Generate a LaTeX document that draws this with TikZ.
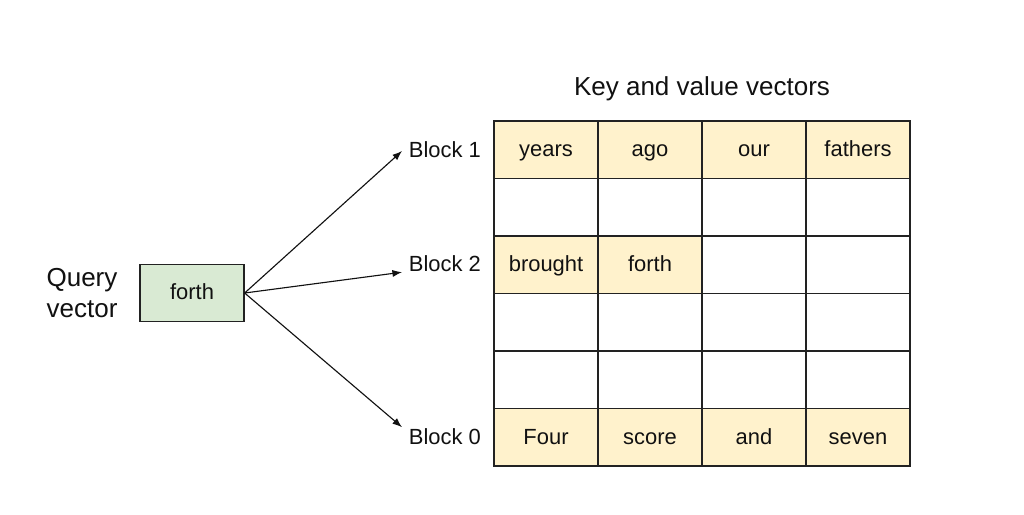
\documentclass[tikz,border=0pt]{standalone}
\usepackage{fontspec}
\setmainfont{Liberation Sans}
\usepackage{tikz}
\usetikzlibrary{arrows.meta,positioning,calc}
\definecolor{Ink}{HTML}{111111}
\definecolor{Grid}{HTML}{222222}
\definecolor{KeyFill}{HTML}{FFF2CC}
\definecolor{QueryFill}{HTML}{D9EAD3}
\tikzset{
  cell/.style={draw=Grid,line width=0.9pt,minimum width=2.6cm,minimum height=1.4375cm,inner sep=0pt,text height=2.2ex,text depth=0.35ex,text=Ink,font=\fontsize{15.6}{18}\selectfont},
  keycell/.style={cell,fill=KeyFill},
  querybox/.style={cell,fill=QueryFill},
  blocklabel/.style={anchor=west,text=Ink,text height=2.2ex,text depth=0.35ex,font=\fontsize{15.6}{18}\selectfont},
  bigtext/.style={text=Ink,align=center,font=\fontsize{18.5}{22}\selectfont},
  arrow/.style={-{Latex[length=2.4mm,width=1.8mm]},line width=0.8pt,draw=Ink}
}
\begin{document}
\begin{tikzpicture}[x=0.025cm,y=-0.025cm]
\useasboundingbox[fill=white] (0,0) rectangle (1024,514);
% grid of key / value slots
\foreach \r in {1,...,6}{
  \foreach \c in {1,...,4}{
    \node[cell] (k\r\c) at ({494+104*(\c-0.5)},{121+57.5*(\r-0.5)}) {};
  }
}
\foreach \r/\c/\word in {1/1/years,1/2/ago,1/3/our,1/4/fathers,3/1/brought,3/2/forth,6/1/Four,6/2/score,6/3/and,6/4/seven}{
  \node[keycell] at (k\r\c) {\word};
}
\node[bigtext] (title) at (702,89) {Key and value vectors};
% block labels
\node[blocklabel] (b1) at (404,151) {Block 1};
\node[blocklabel] (b2) at (404,265) {Block 2};
\node[blocklabel] (b0) at (404,438) {Block 0};
% query
\node[querybox] (q) at (192,293) {forth};
\node[bigtext] (qlabel) at (82,293) {Query\\vector};
\draw[arrow] (q.east) -- ([xshift=-0.05cm]b1.west);
\draw[arrow] (q.east) -- ([xshift=-0.05cm,yshift=-0.18cm]b2.west);
\draw[arrow] (q.east) -- ([xshift=-0.05cm,yshift=0.27cm]b0.west);
\end{tikzpicture}
\end{document}
